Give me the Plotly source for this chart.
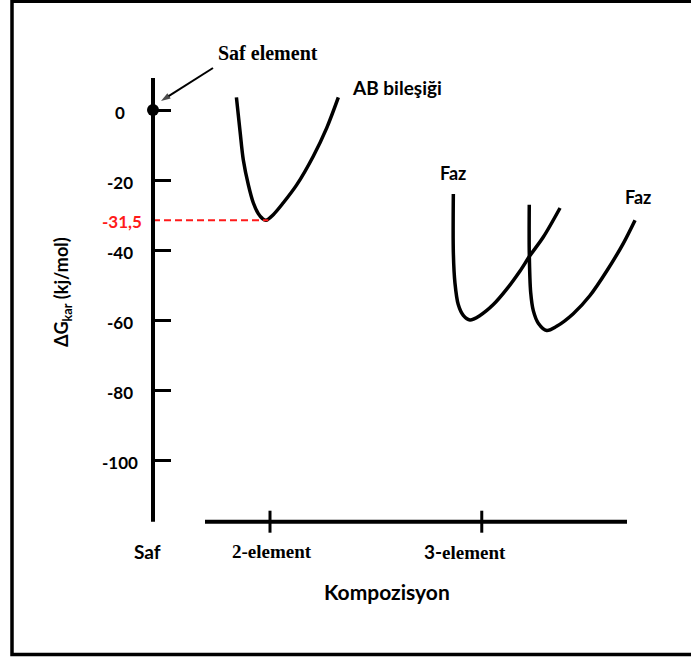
import plotly.graph_objects as go

# Gibbs energy of formation (kJ/mol) versus composition
g_ticks = [0, -20, -40, -60, -80, -100]
g_tick_text = ["0", "-20", "-40", "-60", "-80", "-100"]
compound_level = -31.5
compound_text = "-31,5"

comp_ticks = [0, 1, 2.81]
comp_text = ["Saf", "2-element", "3-element"]

# pure element reference state
pure_x = [0]
pure_g = [0]

# AB compound free-energy curve
ab_x = [0.713, 0.744, 0.772, 0.815, 0.857, 0.900, 0.935, 0.966, 1.028, 1.114, 1.228, 1.370, 1.485, 1.584]
ab_g = [3.6, -6.1, -14.3, -21.4, -26.5, -29.6, -31.0, -31.5, -29.9, -26.5, -21.4, -13.2, -5.1, 3.6]

# two ternary phases
faz1_x = [2.567, 2.567, 2.581, 2.609, 2.652, 2.709, 2.795, 2.909, 3.023, 3.137, 3.222, 3.336, 3.479]
faz1_g = [-24.0, -40.7, -49.5, -55.6, -58.7, -60.0, -58.7, -55.6, -51.2, -46.0, -41.6, -36.3, -28.0]
faz2_x = [3.216, 3.216, 3.228, 3.251, 3.293, 3.365, 3.450, 3.592, 3.735, 3.878, 4.020, 4.120]
faz2_g = [-27.1, -40.7, -52.1, -57.4, -60.9, -63.0, -61.8, -58.2, -53.0, -46.0, -38.1, -31.5]

W, H = 691, 659
ML, MR, MT, MB = 20, 20, 20, 20
X0_PX, G0_PX = 153, 110          # pixel location of (x=0, G=0)
PX_X, PX_G = 117.0, 3.5           # pixels per unit

def ux(px):
    return (px - X0_PX) / PX_X

def ug(py):
    return (G0_PX - py) / PX_G

plot_w = W - ML - MR
plot_h = H - MT - MB

def paper_x(px):
    return (px - ML) / plot_w

def paper_y(py):
    return (H - MB - py) / plot_h

SANS = "Lato"
SERIF = "Liberation Serif"
BLACK = "#000000"
RED = "#ff1a1a"

fig = go.Figure()

curve_line = dict(color=BLACK, width=3.5, shape="spline", smoothing=0.9)
for xs, gs in [(ab_x, ab_g), (faz1_x, faz1_g), (faz2_x, faz2_g)]:
    fig.add_trace(go.Scatter(x=xs, y=gs, mode="lines", line=curve_line,
                             hoverinfo="skip", showlegend=False))

# dashed guide from the axis to the compound minimum
ab_min_x = ab_x[ab_g.index(min(ab_g))]
fig.add_trace(go.Scatter(x=[0, ab_min_x + 0.02], y=[compound_level, compound_level],
                         mode="lines", line=dict(color=RED, width=2, dash="7px,4px"),
                         hoverinfo="skip", showlegend=False))

fig.add_trace(go.Scatter(x=pure_x, y=pure_g, mode="markers",
                         marker=dict(color=BLACK, size=12),
                         cliponaxis=False, hoverinfo="skip", showlegend=False))

# pointer from the "Saf element" caption to the pure-element point
fig.add_trace(go.Scatter(x=[ux(213), ux(161)], y=[ug(68), ug(101)], mode="lines+markers",
                         line=dict(color=BLACK, width=2),
                         marker=dict(symbol="arrow", angleref="previous", size=[0, 10],
                                     color=BLACK, line=dict(width=0)),
                         hoverinfo="skip", showlegend=False))

axis_top = ug(78)
axis_bottom = ug(521.7)
tick_half = 11 / PX_G

shapes = [
    # vertical energy axis
    dict(type="line", xref="x", yref="y", x0=0, x1=0, y0=axis_top, y1=axis_bottom,
         line=dict(color=BLACK, width=4)),
    # composition axis
    dict(type="line", xref="x", yref="y", x0=ux(205), x1=ux(627), y0=axis_bottom, y1=axis_bottom,
         line=dict(color=BLACK, width=4)),
    # outer frame
    dict(type="rect", xref="paper", yref="paper", x0=paper_x(12), x1=paper_x(705),
         y0=paper_y(654.5), y1=paper_y(1.3), line=dict(color=BLACK, width=3.5)),
]
for xv in comp_ticks[1:]:
    shapes.append(dict(type="line", xref="x", yref="y", x0=xv, x1=xv,
                       y0=axis_bottom - tick_half, y1=axis_bottom + tick_half,
                       line=dict(color=BLACK, width=3)))

annotations = []
# energy labels, centred left of the axis
for gv, txt in zip(g_ticks, g_tick_text):
    annotations.append(dict(x=ux(120), y=gv, xref="x", yref="y", text=f"<b>{txt}</b>",
                            showarrow=False, yshift=-2,
                            font=dict(family=SANS, size=17, color=BLACK)))
annotations.append(dict(x=ux(122), y=compound_level, xref="x", yref="y",
                        text=f"<b>{compound_text}</b>", showarrow=False, yshift=-1,
                        font=dict(family=SANS, size=17, color=RED)))

# composition labels under the axis
label_shift = [-6, 2, -17]
label_font = [SANS, SERIF, SERIF]
for xv, txt, dx, fam in zip(comp_ticks, comp_text, label_shift, label_font):
    if txt.startswith("3-"):
        txt = f"<span style='font-family:{SANS}'>3-</span>element"
    annotations.append(dict(x=xv, y=axis_bottom, xref="x", yref="y", text=f"<b>{txt}</b>",
                            showarrow=False, xshift=dx, yshift=-30, yanchor="middle",
                            font=dict(family=fam, size=19, color=BLACK)))

annotations += [
    dict(x=ux(387), y=axis_bottom, xref="x", yref="y", text="<b>Kompozisyon</b>",
         showarrow=False, yshift=-70, yanchor="middle",
         font=dict(family=SANS, size=21, color=BLACK)),
    dict(x=ux(62), y=ug(292), xref="x", yref="y", text="<b>ΔG<sub>kar</sub> (kj/mol)</b>",
         showarrow=False, textangle=-90, font=dict(family=SANS, size=18, color=BLACK)),
    dict(x=ab_x[-1], y=ab_g[-1], xref="x", yref="y", text="<b>AB bileşiği</b>",
         showarrow=False, xanchor="left", xshift=12, yshift=10,
         font=dict(family=SANS, size=19, color=BLACK)),
    dict(x=faz1_x[0], y=faz1_g[0], xref="x", yref="y", text="<b>Faz</b>",
         showarrow=False, yshift=21, font=dict(family=SANS, size=18, color=BLACK)),
    dict(x=faz2_x[-1], y=faz2_g[-1], xref="x", yref="y", text="<b>Faz</b>",
         showarrow=False, xshift=3, yshift=23, font=dict(family=SANS, size=18, color=BLACK)),
    dict(x=ux(268), y=ug(53), xref="x", yref="y", text="<b>Saf element</b>",
         showarrow=False, font=dict(family=SERIF, size=20, color=BLACK)),
]

fig.update_layout(
    width=W, height=H,
    margin=dict(l=ML, r=MR, t=MT, b=MB),
    paper_bgcolor="white", plot_bgcolor="white",
    showlegend=False,
    xaxis=dict(range=[ux(ML), ux(W - MR)], visible=False, fixedrange=True),
    yaxis=dict(range=[ug(H - MB), ug(MT)], anchor="free", position=paper_x(X0_PX), side="left",
               showgrid=False, zeroline=False, showline=False, showticklabels=False,
               tickmode="array", tickvals=g_ticks,
               ticks="inside", ticklen=17, tickwidth=3, tickcolor=BLACK,
               fixedrange=True),
    shapes=shapes,
    annotations=annotations,
)

fig.write_html("out.html")
